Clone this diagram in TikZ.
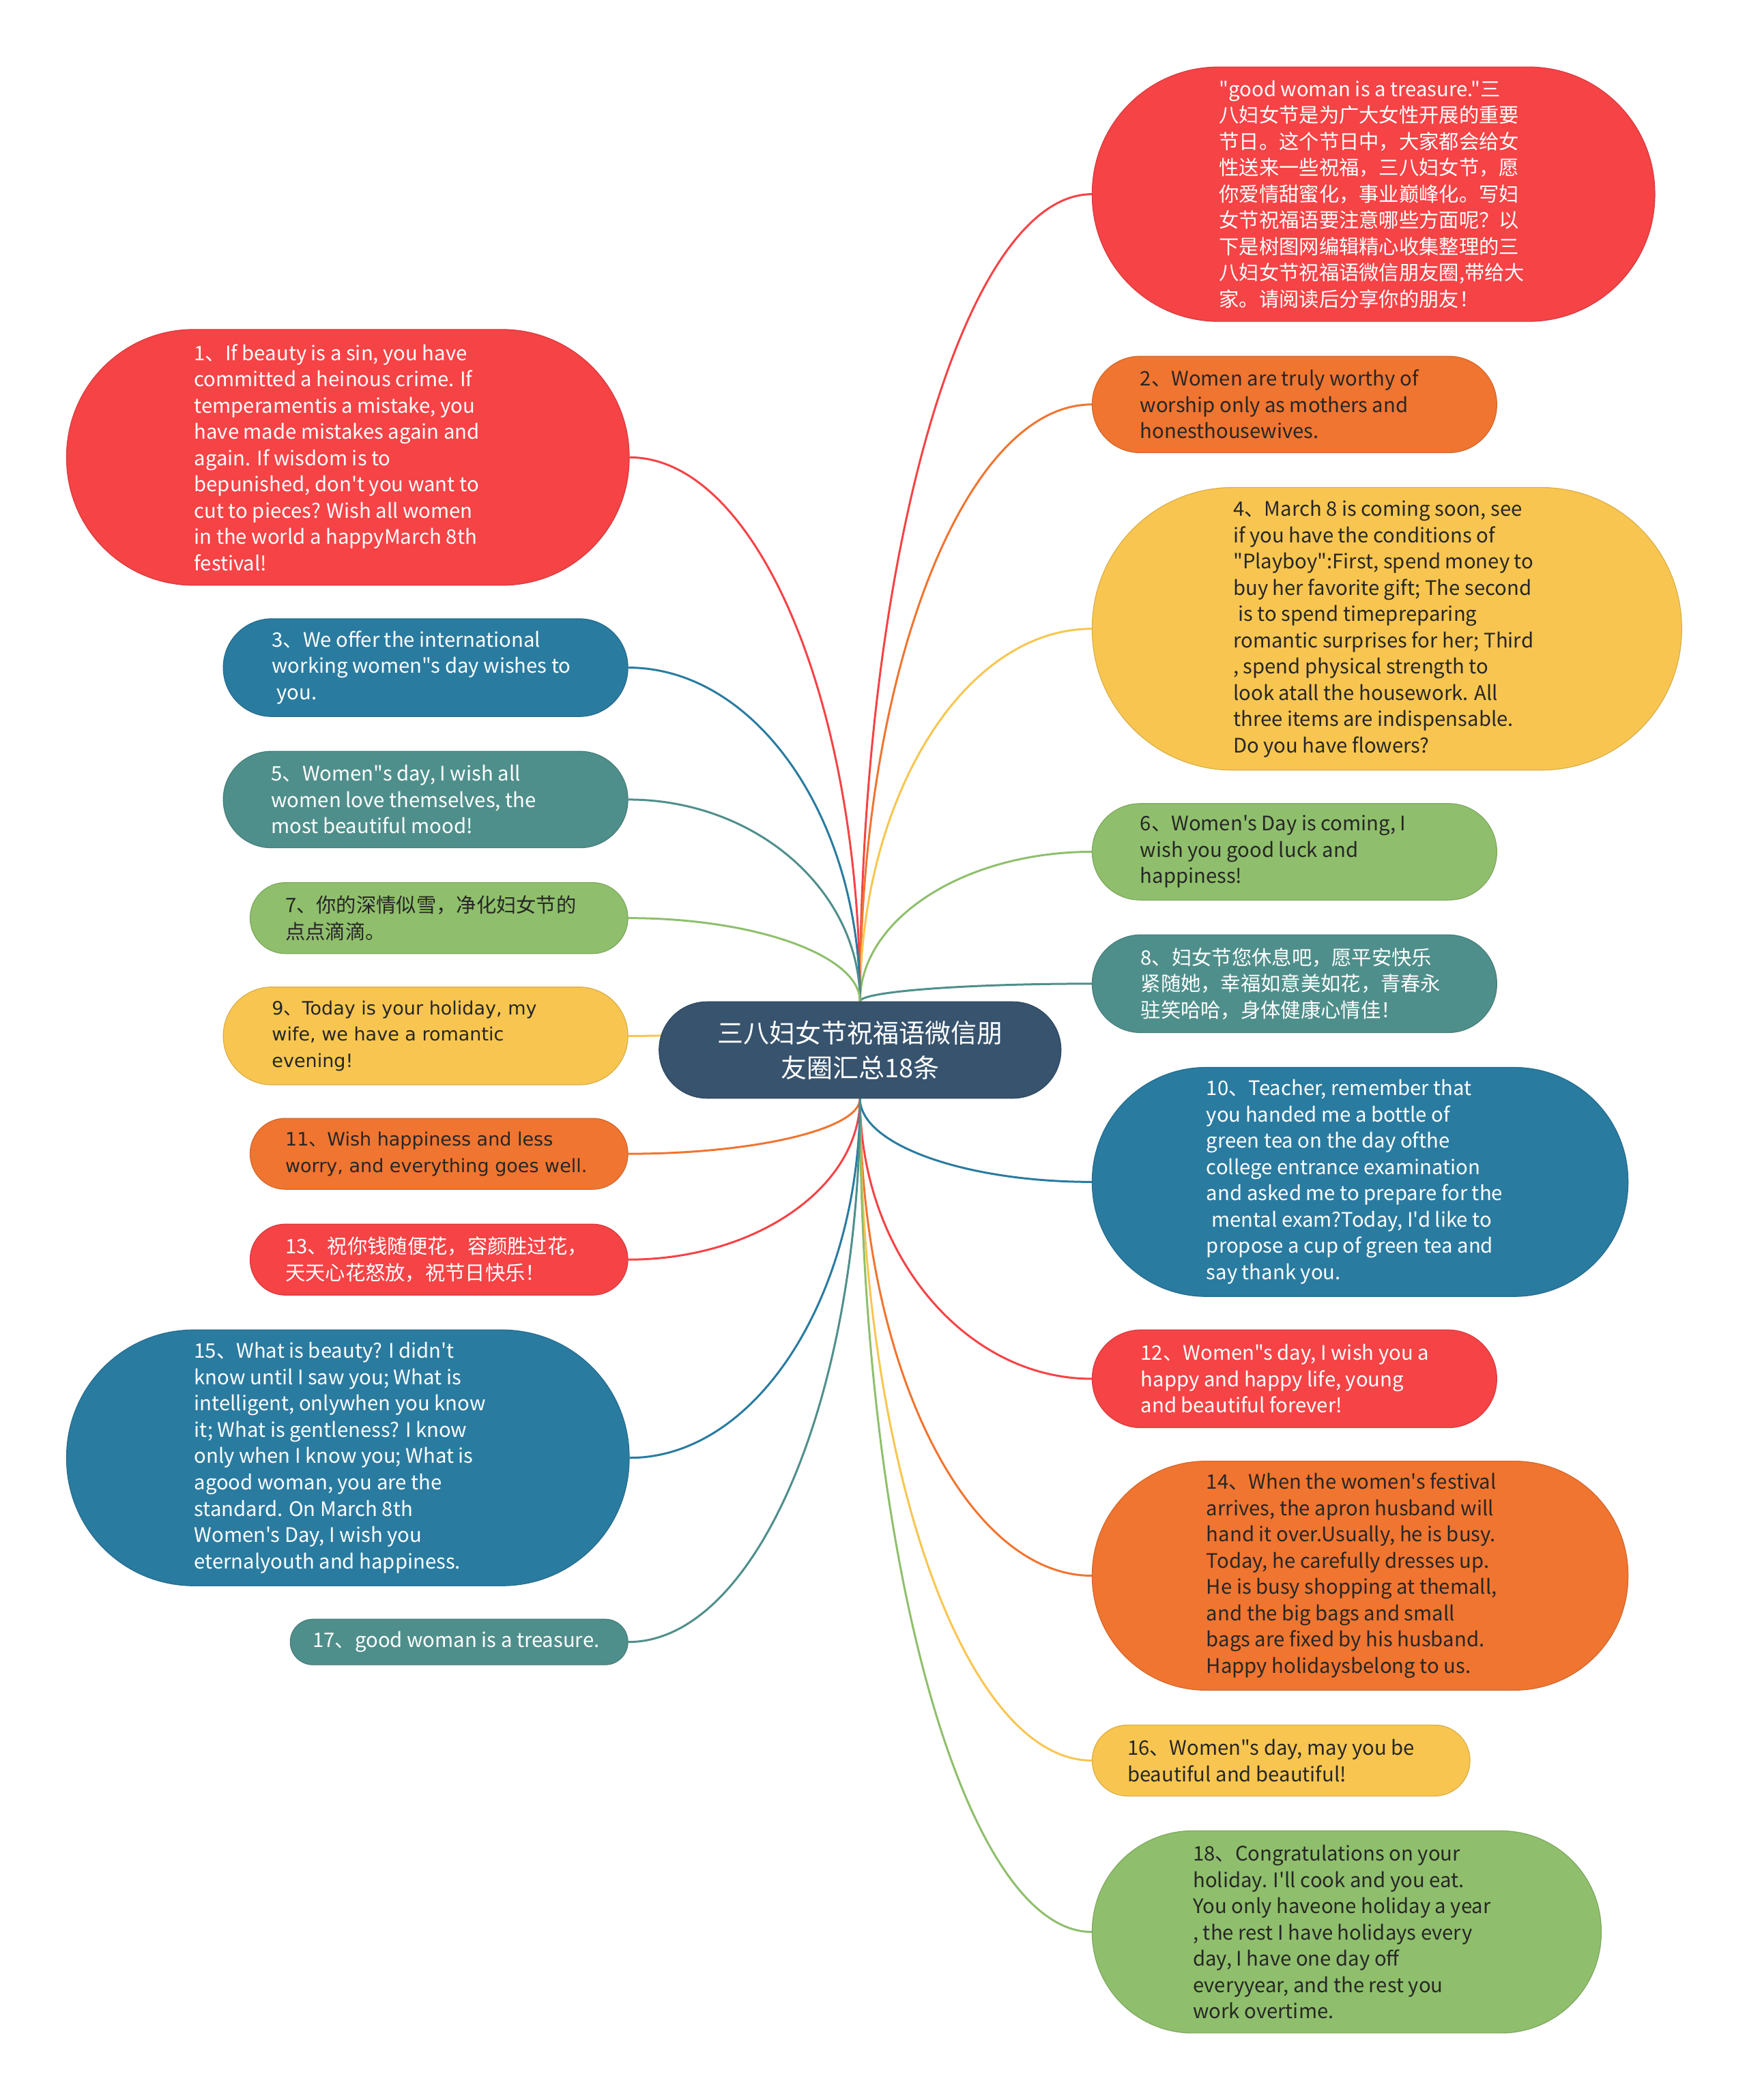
\documentclass[tikz,border=0pt]{standalone}
\usepackage{fontspec}
\newfontfamily\cjk{Noto Sans CJK SC}
\newfontfamily\wide{DejaVu Sans}
\usetikzlibrary{calc}
\definecolor{cRed}{HTML}{F54346}
\definecolor{cOrange}{HTML}{F07530}
\definecolor{cYellow}{HTML}{F8C650}
\definecolor{cGreen}{HTML}{8FBF6C}
\definecolor{cTeal}{HTML}{4F8F8B}
\definecolor{cBlue}{HTML}{2A7BA0}
\definecolor{cCenter}{HTML}{37536E}
\definecolor{cDark}{HTML}{262626}
\pgfdeclarelayer{bg}
\pgfsetlayers{bg,main}
\newcommand\mmitem[8]{%
  \node[pill={#4}{#5}{#6}, anchor=#2] (#1) at #3 {};
  \node[txt, #7] (#1t) at ($(#1.west)+({#5/2},0)$) {#8};
}
\newcommand\mmcurve[3]{%
  \draw[conn=#3] let \p1=(#1), \p2=(#2) in (\p1) .. controls (\x1,{\y1+0.55*(\y2-\y1)}) and ({\x2-0.55*(\x2-\x1)},\y2) .. (\p2);
}
\begin{document}
\begin{tikzpicture}[x=1.963pt,y=-1.963pt,
  pill/.style n args={3}{draw=#3!88!black, line width=1.2pt, fill=#3,
    minimum width=#1*1.963pt, minimum height=#2*1.963pt,
    rounded corners=#2*0.975pt, inner sep=0pt},
  txt/.style={inner sep=0pt, anchor=west, align=left, font=\cjk\fontsize{29.3}{38.5}\selectfont},
  wt/.style={text=white},
  dk/.style={text=cDark},
  wd/.style={font=\wide\fontsize{27}{38.8}\selectfont},
  conn/.style={draw=#1, line width=3pt}]
\useasboundingbox (0,0) rectangle (1304,1568);

% centre
\node[pill={300}{72}{cCenter}] (c) at (642,784) {};
\node[inner sep=0pt, align=center, text=white, font=\cjk\fontsize{38}{51}\selectfont] (ct) at (c.center) {三八妇女节祝福语微信朋\\友圈汇总18条};

% right side
\mmitem{t0}{west}{(815,145)}{420}{190}{cRed}{wt}{"good woman is a treasure."三\\八妇女节是为广大女性开展的重要\\节日。这个节日中，大家都会给女\\性送来一些祝福，三八妇女节，愿\\你爱情甜蜜化，事业巅峰化。写妇\\女节祝福语要注意哪些方面呢？以\\下是树图网编辑精心收集整理的三\\八妇女节祝福语微信朋友圈,带给大\\家。请阅读后分享你的朋友！}
\mmitem{n2}{west}{(815,302)}{302}{72}{cOrange}{dk}{2、Women are truly worthy of\\worship only as mothers and\\honesthousewives.}
\mmitem{n4}{west}{(815,469.5)}{440}{211}{cYellow}{dk}{4、March 8 is coming soon, see\\if you have the conditions of\\"Playboy":First, spend money to\\buy her favorite gift; The second\\\hspace*{0.25em}is to spend timepreparing\\romantic surprises for her; Third\\, spend physical strength to\\look atall the housework. All\\three items are indispensable.\\Do you have flowers?}
\mmitem{n6}{west}{(815,636)}{302}{72}{cGreen}{dk}{6、Women's Day is coming, I\\wish you good luck and\\happiness!}
\mmitem{n8}{west}{(815,734.5)}{302}{73}{cTeal}{wt}{8、妇女节您休息吧，愿平安快乐\\紧随她，幸福如意美如花，青春永\\驻笑哈哈，身体健康心情佳！}
\mmitem{n10}{west}{(815,882.5)}{400}{171}{cBlue}{wt}{10、Teacher, remember that\\you handed me a bottle of\\green tea on the day ofthe\\college entrance examination\\and asked me to prepare for the\\\hspace*{0.25em}mental exam?Today, I'd like to\\propose a cup of green tea and\\say thank you.}
\mmitem{n12}{west}{(815,1029.5)}{302}{73}{cRed}{wt}{12、Women"s day, I wish you a\\happy and happy life, young\\and beautiful forever!}
\mmitem{n14}{west}{(815,1176.5)}{400}{171}{cOrange}{dk}{14、When the women's festival\\arrives, the apron husband will\\hand it over.Usually, he is busy.\\Today, he carefully dresses up.\\He is busy shopping at themall,\\and the big bags and small\\bags are fixed by his husband.\\Happy holidaysbelong to us.}
\mmitem{n16}{west}{(815,1314.5)}{282}{53}{cYellow}{dk}{16、Women"s day, may you be\\beautiful and beautiful!}
\mmitem{n18}{west}{(815,1442.5)}{380}{151}{cGreen}{dk}{18、Congratulations on your\\holiday. I'll cook and you eat.\\You only haveone holiday a year\\, the rest I have holidays every\\day, I have one day off\\everyyear, and the rest you\\work overtime.}

% left side
\mmitem{n1}{east}{(470,341.5)}{420}{191}{cRed}{wt}{1、If beauty is a sin, you have\\committed a heinous crime. If\\temperamentis a mistake, you\\have made mistakes again and\\again. If wisdom is to\\bepunished, don't you want to\\cut to pieces? Wish all women\\in the world a happyMarch 8th\\festival!}
\mmitem{n3}{east}{(469,498.5)}{302}{73}{cBlue}{wt}{3、We offer the international\\working women"s day wishes to\\\hspace*{0.25em}you.}
\mmitem{n5}{east}{(469,597)}{302}{72}{cTeal}{wt}{5、Women"s day, I wish all\\women love themselves, the\\most beautiful mood!}
\mmitem{n7}{east}{(469,685.5)}{282}{53}{cGreen}{dk}{7、你的深情似雪，净化妇女节的\\点点滴滴。}
\mmitem{n9}{east}{(469,773.5)}{302}{73}{cYellow}{dk,wd}{9{\cjk 、}Today is your holiday, my\\wife, we have a romantic\\evening!}
\mmitem{n11}{east}{(469,861.5)}{282}{53}{cOrange}{dk,wd}{11{\cjk 、}Wish happiness and less\\worry, and everything goes well.}
\mmitem{n13}{east}{(469,940.5)}{282}{53}{cRed}{wt}{13、祝你钱随便花，容颜胜过花，\\天天心花怒放，祝节日快乐！}
\mmitem{n15}{east}{(470,1088.5)}{420}{191}{cBlue}{wt}{15、What is beauty? I didn't\\know until I saw you; What is\\intelligent, onlywhen you know\\it; What is gentleness? I know\\only when I know you; What is\\agood woman, you are the\\standard. On March 8th\\Women's Day, I wish you\\eternalyouth and happiness.}
\mmitem{n17}{east}{(469,1226)}{252}{34}{cTeal}{wt}{17、good woman is a treasure.}

\begin{pgfonlayer}{bg}
\fill[white] (0,0) rectangle (1304,1568);
\mmcurve{c.north}{t0.west}{cRed}
\mmcurve{c.north}{n2.west}{cOrange}
\mmcurve{c.north}{n4.west}{cYellow}
\mmcurve{c.north}{n6.west}{cGreen}
\mmcurve{c.north}{n8.west}{cTeal}
\mmcurve{c.south}{n10.west}{cBlue}
\mmcurve{c.south}{n12.west}{cRed}
\mmcurve{c.south}{n14.west}{cOrange}
\mmcurve{c.south}{n16.west}{cYellow}
\mmcurve{c.south}{n18.west}{cGreen}
\mmcurve{c.north}{n1.east}{cRed}
\mmcurve{c.north}{n3.east}{cBlue}
\mmcurve{c.north}{n5.east}{cTeal}
\mmcurve{c.north}{n7.east}{cGreen}
\mmcurve{c.north}{n9.east}{cYellow}
\mmcurve{c.south}{n11.east}{cOrange}
\mmcurve{c.south}{n13.east}{cRed}
\mmcurve{c.south}{n15.east}{cBlue}
\mmcurve{c.south}{n17.east}{cTeal}
\end{pgfonlayer}
\end{tikzpicture}
\end{document}
